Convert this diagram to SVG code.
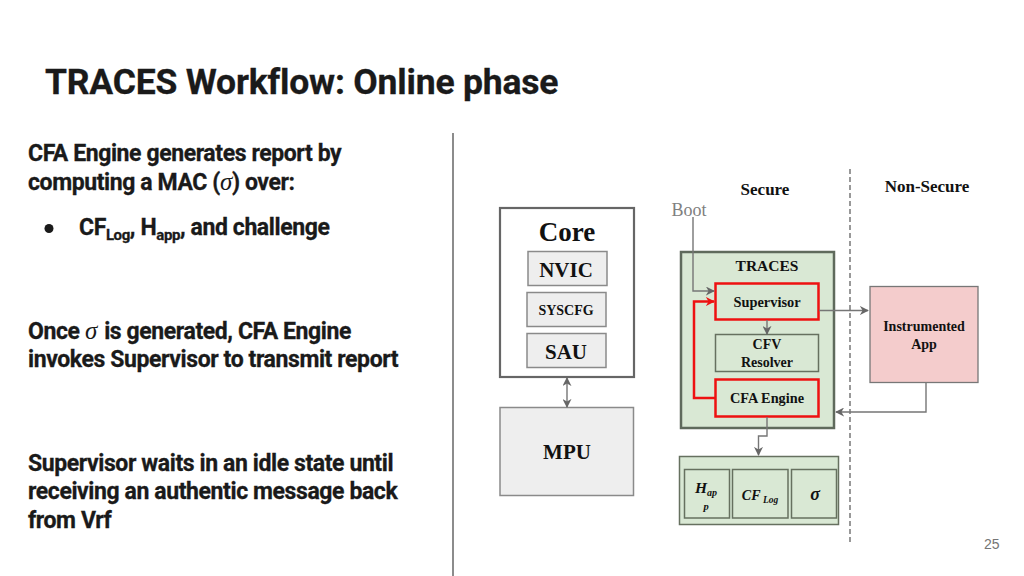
<svg xmlns="http://www.w3.org/2000/svg" width="1024" height="576" viewBox="0 0 1024 576">
<style>
.r{font-family:Roboto,"Liberation Sans",sans-serif;font-weight:700;fill:#1a1a1a;stroke:#1a1a1a;stroke-width:.3}
.b{font-size:23px;letter-spacing:-.4px}
.s{font-family:"Liberation Serif",serif;font-style:italic;font-weight:400;font-size:25px;stroke-width:0}
.t{font-family:"Liberation Serif",serif;font-weight:700;fill:#111;text-anchor:middle}
.ti{font-style:italic}
.gl{fill:#d9e8d4;stroke:#66705f;stroke-width:1.5}
.rd{fill:#d9e8d4;stroke:#ee1111;stroke-width:2.5}
.gy{fill:#eeeeee;stroke:#8a8a8a;stroke-width:1.5}
.c{fill:none;stroke:#767676;stroke-width:1.4}
</style>
<defs>
<marker id="a" viewBox="0 0 10 10" refX="9" refY="5" markerWidth="9" markerHeight="9" markerUnits="userSpaceOnUse" orient="auto-start-reverse"><path d="M0 0L10 5L0 10L3 5Z" fill="#666"/></marker>
<marker id="ar" viewBox="0 0 10 10" refX="9" refY="5" markerWidth="9" markerHeight="9" markerUnits="userSpaceOnUse" orient="auto"><path d="M0 0L10 5L0 10L3 5Z" fill="#ee1111"/></marker>
</defs>
<rect width="1024" height="576" fill="#fff"/>
<text class="r" x="45" y="94" font-size="35.500" letter-spacing="-.2">TRACES Workflow: Online phase</text>
<g id="text-left">
<text class="r b" x="28" y="161">CFA Engine generates report by</text>
<text class="r b" x="28" y="190">computing a MAC (<tspan class="s">σ</tspan>) over:</text>
<circle cx="49" cy="228.500" r="4.500" fill="#1a1a1a"/>
<text class="r b" x="79" y="235">CF<tspan font-size="15" dy="5">Log</tspan><tspan dy="-5">, H</tspan><tspan font-size="15" dy="5">app</tspan><tspan dy="-5">, and challenge</tspan></text>
<text class="r b" x="28" y="339">Once <tspan class="s">σ</tspan><tspan dx="2"> is generated, CFA Engine</tspan></text>
<text class="r b" x="28" y="367">invokes Supervisor to transmit report</text>
<text class="r b" x="28" y="471">Supervisor waits in an idle state until</text>
<text class="r b" x="28" y="499">receiving an authentic message back</text>
<text class="r b" x="28" y="528">from Vrf</text>
</g>
<line x1="453" y1="133" x2="453" y2="576" stroke="#8c8c8c" stroke-width="2"/>
<line x1="850" y1="169" x2="850" y2="543" stroke="#555" stroke-width="1.2" stroke-dasharray="5 3"/>
<text class="t" x="765" y="195" font-size="17">Secure</text>
<text class="t" x="927" y="192" font-size="17">Non-Secure</text>
<text x="689" y="215.500" font-size="18" fill="#808080" text-anchor="middle" font-family="'Liberation Serif',serif">Boot</text>
<g id="core"><rect x="500" y="208" width="134" height="169" fill="#fff" stroke="#666" stroke-width="2.2"/><text class="t" x="567" y="241" font-size="27">Core</text></g>
<g id="nvic"><rect x="528" y="251.500" width="79" height="34" class="gy"/><text class="t" x="566" y="277" font-size="21">NVIC</text></g>
<g id="syscfg"><rect x="527" y="292.500" width="79" height="34" class="gy"/><text class="t" x="566" y="315" font-size="14">SYSCFG</text></g>
<g id="sau"><rect x="527" y="333.500" width="79" height="34" class="gy"/><text class="t" x="566" y="359" font-size="21">SAU</text></g>
<g id="mpu"><rect x="500" y="407.500" width="133.500" height="88" class="gy" stroke="#777"/><text class="t" x="567" y="459" font-size="21">MPU</text></g>
<g id="traces"><rect x="681" y="252" width="153" height="176" fill="#d9e8d4" stroke="#5f6a5c" stroke-width="2.500"/><text class="t" x="767" y="271" font-size="15.500">TRACES</text></g>
<g id="supervisor"><rect x="715.500" y="283.500" width="103" height="36" class="rd"/><text class="t" x="767" y="307" font-size="14.400">Supervisor</text></g>
<g id="cfv"><rect x="715.500" y="334.500" width="103" height="37" class="gl"/><text class="t" font-size="14" x="767" y="349">CFV</text><text class="t" font-size="14" x="767" y="367">Resolver</text></g>
<g id="cfa"><rect x="715.500" y="379.500" width="103" height="37" class="rd"/><text class="t" x="767" y="403" font-size="14.300">CFA Engine</text></g>
<g id="app"><rect x="870" y="286.500" width="108" height="96" fill="#f4cccc" stroke="#777" stroke-width="1.300"/><text class="t" font-size="14" x="924" y="331">Instrumented</text><text class="t" font-size="14" x="924" y="349">App</text></g>
<g id="memory"><rect x="679.500" y="456.500" width="159" height="68" class="gl"/></g>
<g id="happ"><rect x="684.500" y="469.500" width="45" height="48.500" class="gl"/><text class="t ti" x="706" y="493" font-size="15.500">H<tspan font-size="10" dy="3">ap</tspan></text><text class="t ti" x="706" y="510" font-size="10.500">p</text></g>
<g id="cflog"><rect x="732.500" y="469.500" width="55.500" height="48.500" class="gl"/><text class="t ti" x="760" y="500" font-size="14">CF<tspan font-size="9.500" dy="3"> Log</tspan></text></g>
<g id="sigma"><rect x="791.500" y="469.500" width="45" height="48.500" class="gl"/><text class="t ti" x="815" y="500" font-size="18">σ</text></g>
<g id="connectors">
<path class="c" d="M693 217V291H714" marker-end="url(#a)"/>
<path d="M716 398H694V301.500H714" fill="none" stroke="#ee1111" stroke-width="2.500" marker-end="url(#ar)"/>
<path class="c" d="M767 320V334" marker-end="url(#a)"/>
<path class="c" d="M819 310.500H868" marker-end="url(#a)"/>
<path class="c" d="M926 383V412H836" marker-end="url(#a)"/>
<path class="c" d="M767 417V436H758.500V455" stroke-width="1.600" marker-end="url(#a)"/>
<path class="c" d="M567 378V407" marker-start="url(#a)" marker-end="url(#a)"/>
</g>
<text x="984" y="549" font-size="14" fill="#757575" font-family="'Liberation Sans',sans-serif">25</text>
</svg>
